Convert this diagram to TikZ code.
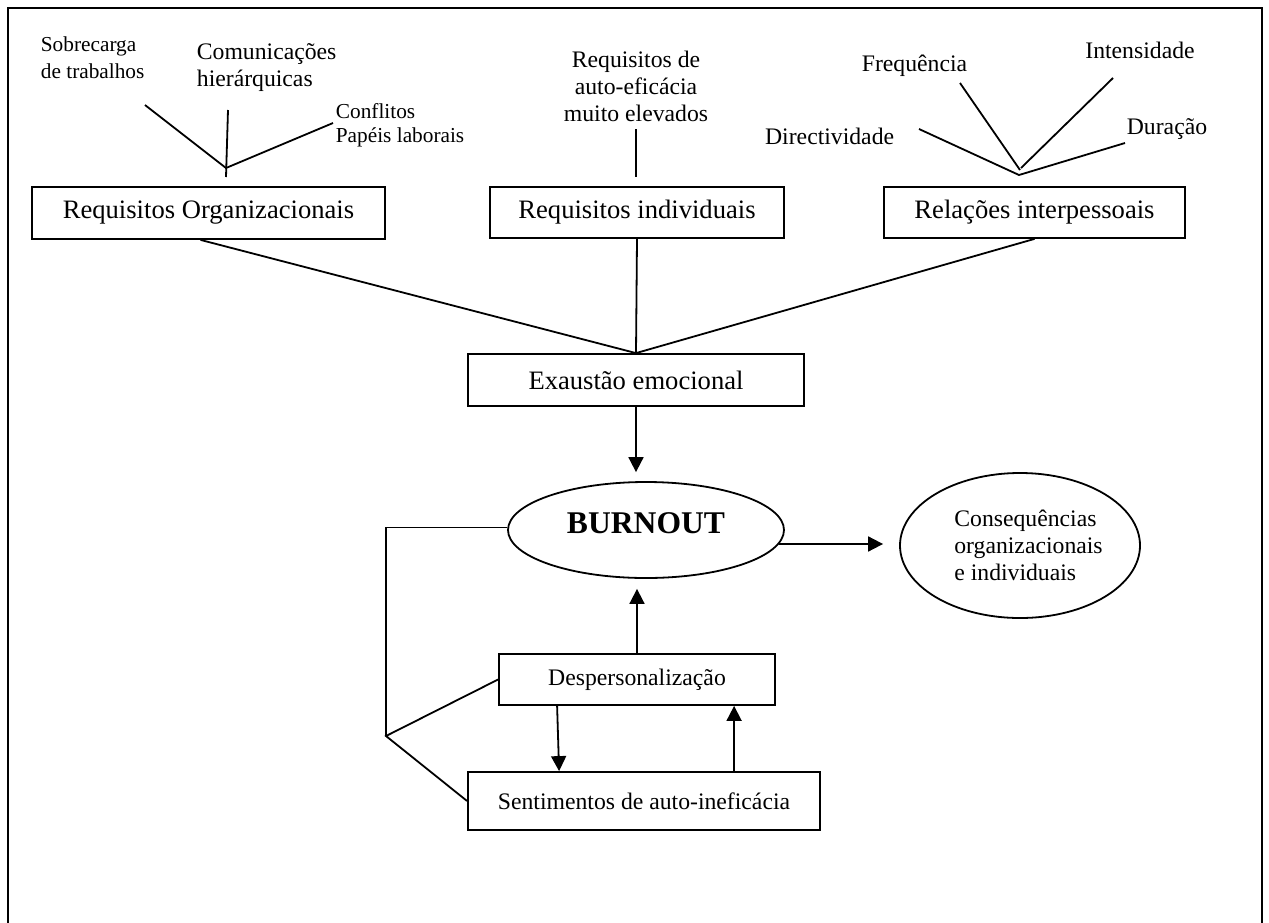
\documentclass[tikz,border=0pt]{standalone}
\usepackage{fontspec}
\setmainfont{Liberation Serif}
\usetikzlibrary{arrows.meta,calc,shapes.geometric}
\begin{document}
\begin{tikzpicture}[x=0.5pt,y=-0.5pt,
  line width=0.9pt,
  bigbox/.style={draw, rectangle, inner sep=0pt, font=\fontsize{13.3}{16}\selectfont},
  medbox/.style={draw, rectangle, inner sep=0pt, font=\fontsize{11.85}{14}\selectfont},
  medtext/.style={inner sep=0pt, font=\fontsize{11.85}{13.5}\selectfont},
  smalltext/.style={inner sep=0pt, font=\fontsize{10.65}{13.5}\selectfont},
  oval/.style={draw, ellipse, inner sep=0pt},
  arr/.style={-{Triangle[length=7.5pt,width=7.5pt]}}
]
\useasboundingbox (0,0) rectangle (1269,922);
\draw[line width=1.3pt] (8,923) -- (8,8) -- (1262,8) -- (1262,923);

% boxes
\node[bigbox, minimum width=176.5pt, minimum height=26pt] (org) at (208.5,213) {Requisitos Organizacionais};
\node[bigbox, minimum width=147pt, minimum height=25.5pt] (ind) at (637,212.5) {Requisitos individuais};
\node[bigbox, minimum width=150.5pt, minimum height=25.5pt] (rel) at (1034.5,212.5) {Relações interpessoais};
\node[bigbox, minimum width=168pt, minimum height=26pt] (exa) at (636,380) {Exaustão emocional};
\node[medbox, minimum width=138pt, minimum height=25.5pt] (desp) at (637,679.5) {Despersonalização};
\node[medbox, minimum width=176pt, minimum height=29pt] (sent) at (644,801) {Sentimentos de auto-ineficácia};

% ellipses
\node[oval, minimum width=138pt, minimum height=48pt] (burn) at (646,530) {};
\node[inner sep=0pt, font=\bfseries\fontsize{15.8}{18}\selectfont] (burntext) at (646,523) {BURNOUT};
\node[oval, minimum width=120pt, minimum height=72.5pt] (cons) at (1020,545.5) {};
\node[medtext, align=left] (constext) at (1028.5,545) {Consequências\\organizacionais\\e individuais};

% top texts
\node[smalltext, align=left, anchor=west] (sob) at (40,57.5) {Sobrecarga\\de trabalhos};
\node[medtext, align=left, anchor=west] (com) at (196,67.5) {Comunicações\\hierárquicas};
\node[inner sep=0pt, font=\fontsize{10.65}{12}\selectfont, align=left, anchor=west] (con) at (335,125) {Conflitos\\Papéis laborais};
\node[medtext, align=center] (reqt) at (636,86) {Requisitos de\\auto-eficácia\\muito elevados};
\node[medtext] (freq) at (914.5,66) {Frequência};
\node[medtext] (inten) at (1140,50) {Intensidade};
\node[medtext, anchor=east] (dir) at (895,136) {Directividade};
\node[medtext] (dur) at (1167,129) {Duração};

% coordinates
\coordinate (jo) at (226,168);
\coordinate (sobend) at (145,105);
\coordinate (comtop) at (228,110);
\coordinate (combot) at (226,177);
\coordinate (conend) at (333,123);
\coordinate (indtop) at (636,129);
\coordinate (indbot) at (636,177);
\coordinate (jr) at (1019,175);
\coordinate (dirend) at (919,129);
\coordinate (freqend) at (960,83);
\coordinate (freqbot) at (1020,170);
\coordinate (intend) at (1113,78);
\coordinate (intbot) at (1021,168);
\coordinate (durend) at (1125,143);
\coordinate (loopc) at (386,736);

% fan lines
\draw (sobend) -- (jo) -- (conend);
\draw (comtop) -- (combot);
\draw (indtop) -- (indbot);
\draw (dirend) -- (jr) -- (durend);
\draw (freqend) -- (freqbot);
\draw (intend) -- (intbot);

% to exhaustion
\draw ($(org.south)+(-8,0)$) -- (exa.north);
\draw (ind.south) -- (exa.north);
\draw (rel.south) -- (exa.north);

% arrows
\draw[arr, shorten >=4.5pt] (exa.south) -- (exa.south |- burn.north);
\draw[arr, shorten >=5pt] (desp.north) -- (desp.north |- burn.south);
\draw[arr, shorten >=8pt] (burn.-6) -- (cons.west |- burn.-6);
\draw[arr] ($(desp.south west)+(59,0)$) -- ($(sent.north west)+(92,0)$);
\draw[arr] ($(sent.north west)+(267,0)$) -- ($(desp.south west)+(236,0)$);

% loop
\draw (burn.179) -| (loopc);
\draw (desp.west) -- (loopc) -- (sent.west);
\end{tikzpicture}
\end{document}
